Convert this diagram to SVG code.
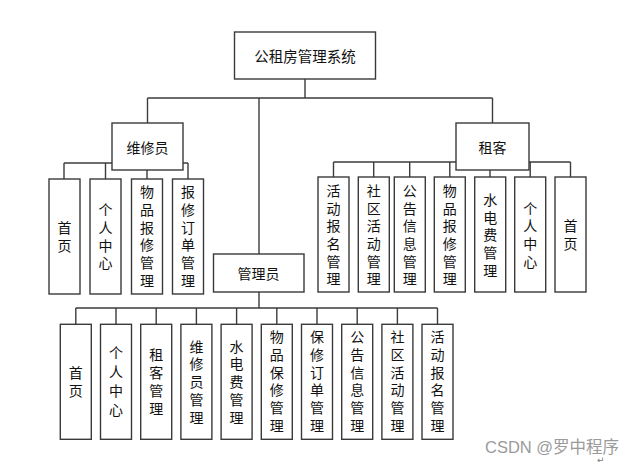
<svg xmlns="http://www.w3.org/2000/svg" width="636" height="466" viewBox="0 0 636 466">
<style>
.box{fill:#fff;stroke:#3a3a3a;stroke-width:1.4}
.t{font-family:"Noto Sans CJK SC","Liberation Sans",sans-serif;font-size:14px;fill:#111;text-anchor:middle;dominant-baseline:central}
.v{font-family:"Noto Sans CJK SC","Liberation Sans",sans-serif;font-size:14px;fill:#111;text-anchor:middle;writing-mode:vertical-rl;text-orientation:upright;letter-spacing:3.7px}
.ln{fill:none;stroke:#3c3c3c;stroke-width:1.4}
.wm{font-family:"Liberation Sans","Noto Sans CJK SC",sans-serif;font-size:16.5px;fill:#9a9a9a}
</style>
<rect width="636" height="466" fill="#fff"/>
<g id="connectors" class="ln">
<path d="M305 79V98M147.5 98H492.5M147.5 98V123M492.5 98V123M259 98V254"/>
<path d="M147.5 170V163M64 163H188M64 163V179M105.5 163V179M147 163V179M188 163V179"/>
<path d="M492 170V162M333.5 162H570.5M333.5 162V177M373.7 162V177M409.7 162V177M449.8 162V177M490 162V177M530.2 162V177M570.5 162V177"/>
<path d="M259 292V308M75.8 308H437.5M75.8 308V324M116 308V324M156.2 308V324M196.4 308V324M236.6 308V324M276.8 308V324M317 308V324M357.2 308V324M397.4 308V324M437.5 308V324"/>
</g>
<g id="root"><rect class="box" x="234.5" y="32" width="141" height="47"/><text class="t" x="305" y="55" style="font-size:14.5px">公租房管理系统</text></g>
<g id="weixiuyuan"><rect class="box" x="112" y="123" width="71" height="47"/><text class="t" x="147.5" y="146.5">维修员</text></g>
<g id="zuke"><rect class="box" x="456" y="123" width="73" height="47"/><text class="t" x="492.5" y="146.5">租客</text></g>
<g id="guanliyuan"><rect class="box" x="213.5" y="254" width="90.5" height="38"/><text class="t" x="258.5" y="273">管理员</text></g>

<g id="w1"><rect class="box" x="49" y="179" width="31" height="115"/><text class="v" x="64.5" y="238.5" style="letter-spacing:4px">首页</text></g>
<g id="w2"><rect class="box" x="90" y="179" width="31" height="115"/><text class="v" x="105.5" y="238.3">个人中心</text></g>
<g id="w3"><rect class="box" x="131.5" y="179" width="31" height="115"/><text class="v" x="147" y="238.1">物品报修管理</text></g>
<g id="w4"><rect class="box" x="172.5" y="179" width="31" height="115"/><text class="v" x="188" y="238.1">报修订单管理</text></g>

<g id="z1"><rect class="box" x="318" y="177" width="31" height="115"/><text class="v" x="333.5" y="236.6">活动报名管理</text></g>
<g id="z2"><rect class="box" x="358.3" y="177" width="31" height="115"/><text class="v" x="373.8" y="236.6">社区活动管理</text></g>
<g id="z3"><rect class="box" x="394.3" y="177" width="31" height="115"/><text class="v" x="409.8" y="236.6">公告信息管理</text></g>
<g id="z4"><rect class="box" x="434.3" y="177" width="31" height="115"/><text class="v" x="449.8" y="236.6">物品报修管理</text></g>
<g id="z5"><rect class="box" x="474.7" y="177" width="31" height="115"/><text class="v" x="490.2" y="236.8">水电费管理</text></g>
<g id="z6"><rect class="box" x="514.7" y="177" width="31" height="115"/><text class="v" x="530.2" y="236.6">个人中心</text></g>
<g id="z7"><rect class="box" x="555" y="177" width="31" height="115"/><text class="v" x="570.5" y="236.5" style="letter-spacing:4px">首页</text></g>

<g id="g1"><rect class="box" x="60.3" y="324.3" width="31" height="115"/><text class="v" x="75.8" y="383.5" style="letter-spacing:4px">首页</text></g>
<g id="g2"><rect class="box" x="100.5" y="324.3" width="31" height="115"/><text class="v" x="116" y="384" style="letter-spacing:5px">个人中心</text></g>
<g id="g3"><rect class="box" x="140.7" y="324.3" width="31" height="115"/><text class="v" x="156.2" y="383.5" style="letter-spacing:4px">租客管理</text></g>
<g id="g4"><rect class="box" x="180.9" y="324.3" width="31" height="115"/><text class="v" x="196.4" y="383.7">维修员管理</text></g>
<g id="g5"><rect class="box" x="221.1" y="324.3" width="31" height="115"/><text class="v" x="236.6" y="383.7">水电费管理</text></g>
<g id="g6"><rect class="box" x="261.3" y="324.3" width="31" height="115"/><text class="v" x="276.8" y="383.1">物品保修管理</text></g>
<g id="g7"><rect class="box" x="301.5" y="324.3" width="31" height="115"/><text class="v" x="317" y="383.1">保修订单管理</text></g>
<g id="g8"><rect class="box" x="341.7" y="324.3" width="31" height="115"/><text class="v" x="357.2" y="383.1">公告信息管理</text></g>
<g id="g9"><rect class="box" x="381.9" y="324.3" width="31" height="115"/><text class="v" x="397.4" y="383.1">社区活动管理</text></g>
<g id="g10"><rect class="box" x="422" y="324.3" width="31" height="115"/><text class="v" x="437.5" y="383.1">活动报名管理</text></g>

<text class="wm" x="485" y="453">CSDN @罗中程序</text>
<text x="597" y="463" style="font-family:'DejaVu Sans',sans-serif;font-size:9px;fill:#777">↵</text>
</svg>
